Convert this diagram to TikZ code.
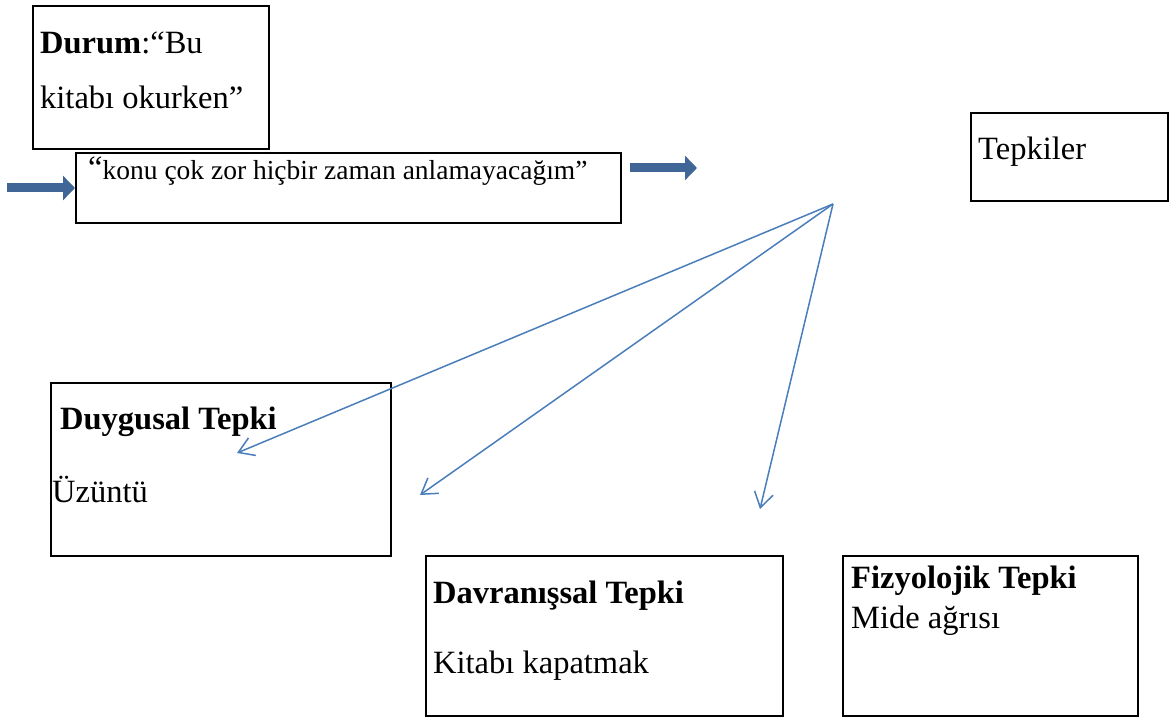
\documentclass[tikz,border=0pt]{standalone}
\usepackage{fontspec}
\setmainfont{Liberation Serif}
\usetikzlibrary{arrows.meta}

\begin{document}
\begin{tikzpicture}[x=1pt, y=-1pt,
    box/.style={draw=black, line width=2pt, anchor=north west, inner sep=0pt},
    txt/.style={anchor=base west, inner sep=0pt, font=\fontsize{32.5}{39}\selectfont},
    bigarrow/.style={draw=arrowblue, line width=9pt, -{Triangle[length=12pt, width=24pt]}},
    thinarrow/.style={draw=lineblue, line width=1.5pt, -{Straight Barb[length=15pt, width=19pt]}}]
        \definecolor{arrowblue}{HTML}{3F6696}
        \definecolor{lineblue}{HTML}{4A7EBB}
        \useasboundingbox (0, 0) rectangle (1171, 719);

        \node[box, minimum width=236pt, minimum height=143pt] (durum) at (32, 5) {};
        \node[box, minimum width=545pt, minimum height=70pt] (dusunce) at (75, 152) {};
        \node[box, minimum width=197pt, minimum height=88pt] (tepkiler) at (970, 112) {};
        \node[box, minimum width=340pt, minimum height=173pt] (duygusal) at (50, 382) {};
        \node[box, minimum width=357pt, minimum height=160pt] (davranis) at (425, 555) {};
        \node[box, minimum width=295pt, minimum height=160pt] (fizyolojik) at (842, 555) {};

        \node[txt] (durumA) at (40, 54) {\textbf{Durum}:“Bu};
        \node[txt] (durumB) at (40, 109) {kitabı okurken”};
        \node[txt, font=\fontsize{27.5}{32}\selectfont] (dusunceT) at (88, 180) {\raisebox{1pt}{\fontsize{32.5}{39}\selectfont“}konu çok zor hiçbir zaman anlamayacağım”};
        \node[txt] (tepkilerT) at (978, 160) {Tepkiler};
        \node[txt] (duygusalA) at (60, 430) {\textbf{Duygusal Tepki}};
        \node[txt] (duygusalB) at (52, 502) {Üzüntü};
        \node[txt] (davranisA) at (433, 603) {\textbf{Davranışsal Tepki}};
        \node[txt] (davranisB) at (433, 673) {Kitabı kapatmak};
        \node[txt] (fizyolojikA) at (851, 588) {\textbf{Fizyolojik Tepki}};
        \node[txt] (fizyolojikB) at (851, 628) {Mide ağrısı};

        \draw[bigarrow] (7, 188) -- (dusunce.west |- 0, 188);
        \draw[bigarrow] (dusunce.east |- 0, 168) ++(8, 0) -- (697, 168);

        \coordinate (merkez) at (833, 204);
        \coordinate (uc1) at (237, 453);
        \coordinate (uc2) at (420, 495);
        \coordinate (uc3) at (760, 509);
        \foreach \u in {uc1, uc2, uc3} {
          \draw[thinarrow] (merkez) -- (\u);
        }
      \end{tikzpicture}
\end{document}
